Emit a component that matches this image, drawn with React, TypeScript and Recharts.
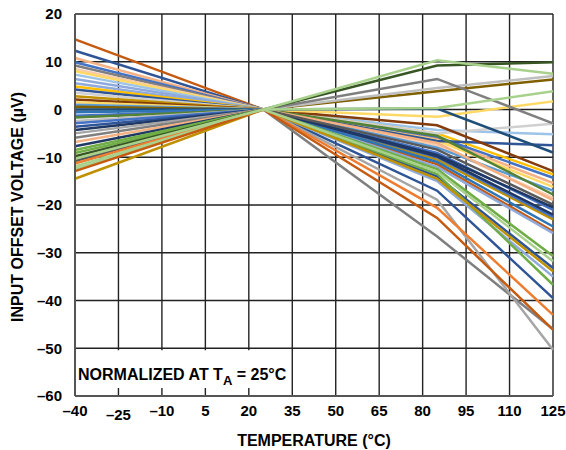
import React from 'react';
import { LineChart, Line, XAxis, YAxis, CartesianGrid, ReferenceArea } from 'recharts';

// temperatures (°C) where each unit was measured
const TEMPS = [-40, 25, 85, 125];

// offset (µV) per unit, normalized to 0 at 25°C
const AT_M40 = [
  14.7, 12.3, 10.8, 9.9, 9.2, 8.5, 8.0, 7.3, 6.4, 5.5,
  4.8, 4.2, 3.5, 2.8, 2.1, 1.5, 1.0, 0.6, 0, -0.6,
  -1.3, -1.7, -2.4, -2.9, -3.6, -4.3, -5.0, -5.9, -6.8, -7.7,
  -8.5, -9.1, -9.8, -14.5, -10.8, -11.3, -11.9, -12.4, -12.9, -10.3,
];
const AT_85 = [
  -11.5, -17, -6.0, -5.7, -26.6, -7.5, -6.5, -4.3, -12, -15,
  -5.0, -6.6, -5, -10.5, -3.3, -1.5, -8, 3.8, 0.2, -11,
  -9.1, -5.5, 4.5, -10, -14, -9.5, -18.9, 6.4, -7, -9.8,
  -13.5, -12.5, 9.2, -14.5, -8.4, -20.6, 10.3, 0.3, -22.7, -13,
];
const AT_125 = [
  -25.5, -39.5, -15.4, -14.3, -46, -18.5, -16.2, -5.2, -25.9, -35,
  -13.6, -7.5, -3, -23, -12.9, 1.7, -17, 6.3, -9, -24.5,
  -21, -17.8, 7.0, -22.5, -33.2, -20.5, -50.3, -2.9, -19, -22,
  -36.7, -30.7, 9.9, -33.9, -19.9, -43, 7.5, 3.8, -46.1, -31.8,
];
const COLORS = [
  '#C55A11', '#2F5597', '#F4B183', '#4472C4', '#7F7F7F', '#F8CBAD', '#FFD966', '#9DC3E6', '#8FAADC', '#8FAADC',
  '#FFC000', '#2F5597', '#D0D0D0', '#BF9000', '#843C0C', '#FFD966', '#5B9BD5', '#7F6000', '#1F4E79', '#2E75B6',
  '#4472C4', '#548235', '#BFBFBF', '#4472C4', '#2F5597', '#1F3864', '#A5A5A5', '#7F7F7F', '#F4B183', '#203864',
  '#70AD47', '#70AD47', '#375623', '#BF9000', '#595959', '#ED7D31', '#A9D18E', '#A9D18E', '#C55A11', '#A9D18E',
];

const X_TICKS = [-40, -25, -10, 5, 20, 35, 50, 65, 80, 95, 110, 125];
const Y_TICKS = [20, 10, 0, -10, -20, -30, -40, -50, -60];

const series = [AT_M40, TEMPS.map(() => 0), AT_85, AT_125];
const data = TEMPS.map((t, i) => {
  const row: Record<string, number> = { t };
  AT_M40.forEach((_, k) => {
    row[`u${k}`] = i === 1 ? 0 : series[i][k];
  });
  return row;
});

const FONT = "'Liberation Sans', Arial, sans-serif";
const fmt = (v: number) => (v < 0 ? `\u2013${Math.abs(v)}` : `${v}`);

const XTick = (props: any) => {
  const { x, y, payload } = props;
  const shift = payload.value === -25 ? 4 : 0;
  return (
    <text x={x} y={y + shift} dy="0.71em" textAnchor="middle" fontFamily={FONT} fontWeight="bold" fontSize={15} fill="#000">
      {fmt(payload.value)}
    </text>
  );
};

const YTick = (props: any) => {
  const { x, y, payload } = props;
  return (
    <text x={x} y={y} dy="0.35em" textAnchor="end" fontFamily={FONT} fontWeight="bold" fontSize={15} fill="#000">
      {fmt(payload.value)}
    </text>
  );
};

const YTitle = (props: any) => {
  const vb = props.viewBox;
  const cy = vb.y + vb.height / 2 + 2;
  return (
    <text x={17} y={cy} transform={`rotate(-90, 17, ${cy})`} textAnchor="middle" dominantBaseline="central"
      fontFamily={FONT} fontWeight="bold" fontSize={16} fill="#000">
      INPUT OFFSET VOLTAGE (µV)
    </text>
  );
};

const XTitle = (props: any) => {
  const vb = props.viewBox;
  return (
    <text x={vb.x + vb.width / 2} y={446} textAnchor="middle" fontFamily={FONT} fontWeight="bold" fontSize={16} fill="#000">
      TEMPERATURE (°C)
    </text>
  );
};

const Note = (props: any) => {
  const vb = props.viewBox;
  return (
    <text x={vb.x + 3} y={vb.y + 30} fontFamily={FONT} fontWeight="bold" fontSize={16} fill="#000">
      NORMALIZED AT T<tspan fontSize={13} dy={5}>A</tspan><tspan dy={-5}> = 25°C</tspan>
    </text>
  );
};

export default function App() {
  return (
    <div style={{ position: 'absolute', left: 0, top: 0, background: '#fff' }}>
      <LineChart width={566} height={450} data={data} margin={{ top: 14, right: 13, bottom: 0, left: 0 }}>
        <CartesianGrid stroke="#222" strokeWidth={1.4} horizontalValues={Y_TICKS} verticalValues={X_TICKS} />
        <XAxis
          dataKey="t"
          type="number"
          domain={[-40, 125]}
          ticks={X_TICKS}
          height={54}
          tickSize={0}
          tickMargin={9}
          tick={<XTick />}
          axisLine={{ stroke: '#555', strokeWidth: 2 }}
          tickLine={false}
          label={<XTitle />}
        />
        <YAxis
          type="number"
          domain={[-60, 20]}
          ticks={Y_TICKS}
          width={75}
          tickSize={0}
          tickMargin={13}
          tick={<YTick />}
          axisLine={{ stroke: '#555', strokeWidth: 2 }}
          tickLine={false}
          label={<YTitle />}
        />
        <ReferenceArea x1={-40} x2={34.5} y1={-58.3} y2={-50.4} fill="#fff" fillOpacity={1} stroke="none" label={<Note />} />
        {AT_M40.map((_, k) => (
          <Line
            key={k}
            dataKey={`u${k}`}
            stroke={COLORS[k]}
            strokeWidth={2.5}
            dot={false}
            isAnimationActive={false}
          />
        ))}
      </LineChart>
    </div>
  );
}
